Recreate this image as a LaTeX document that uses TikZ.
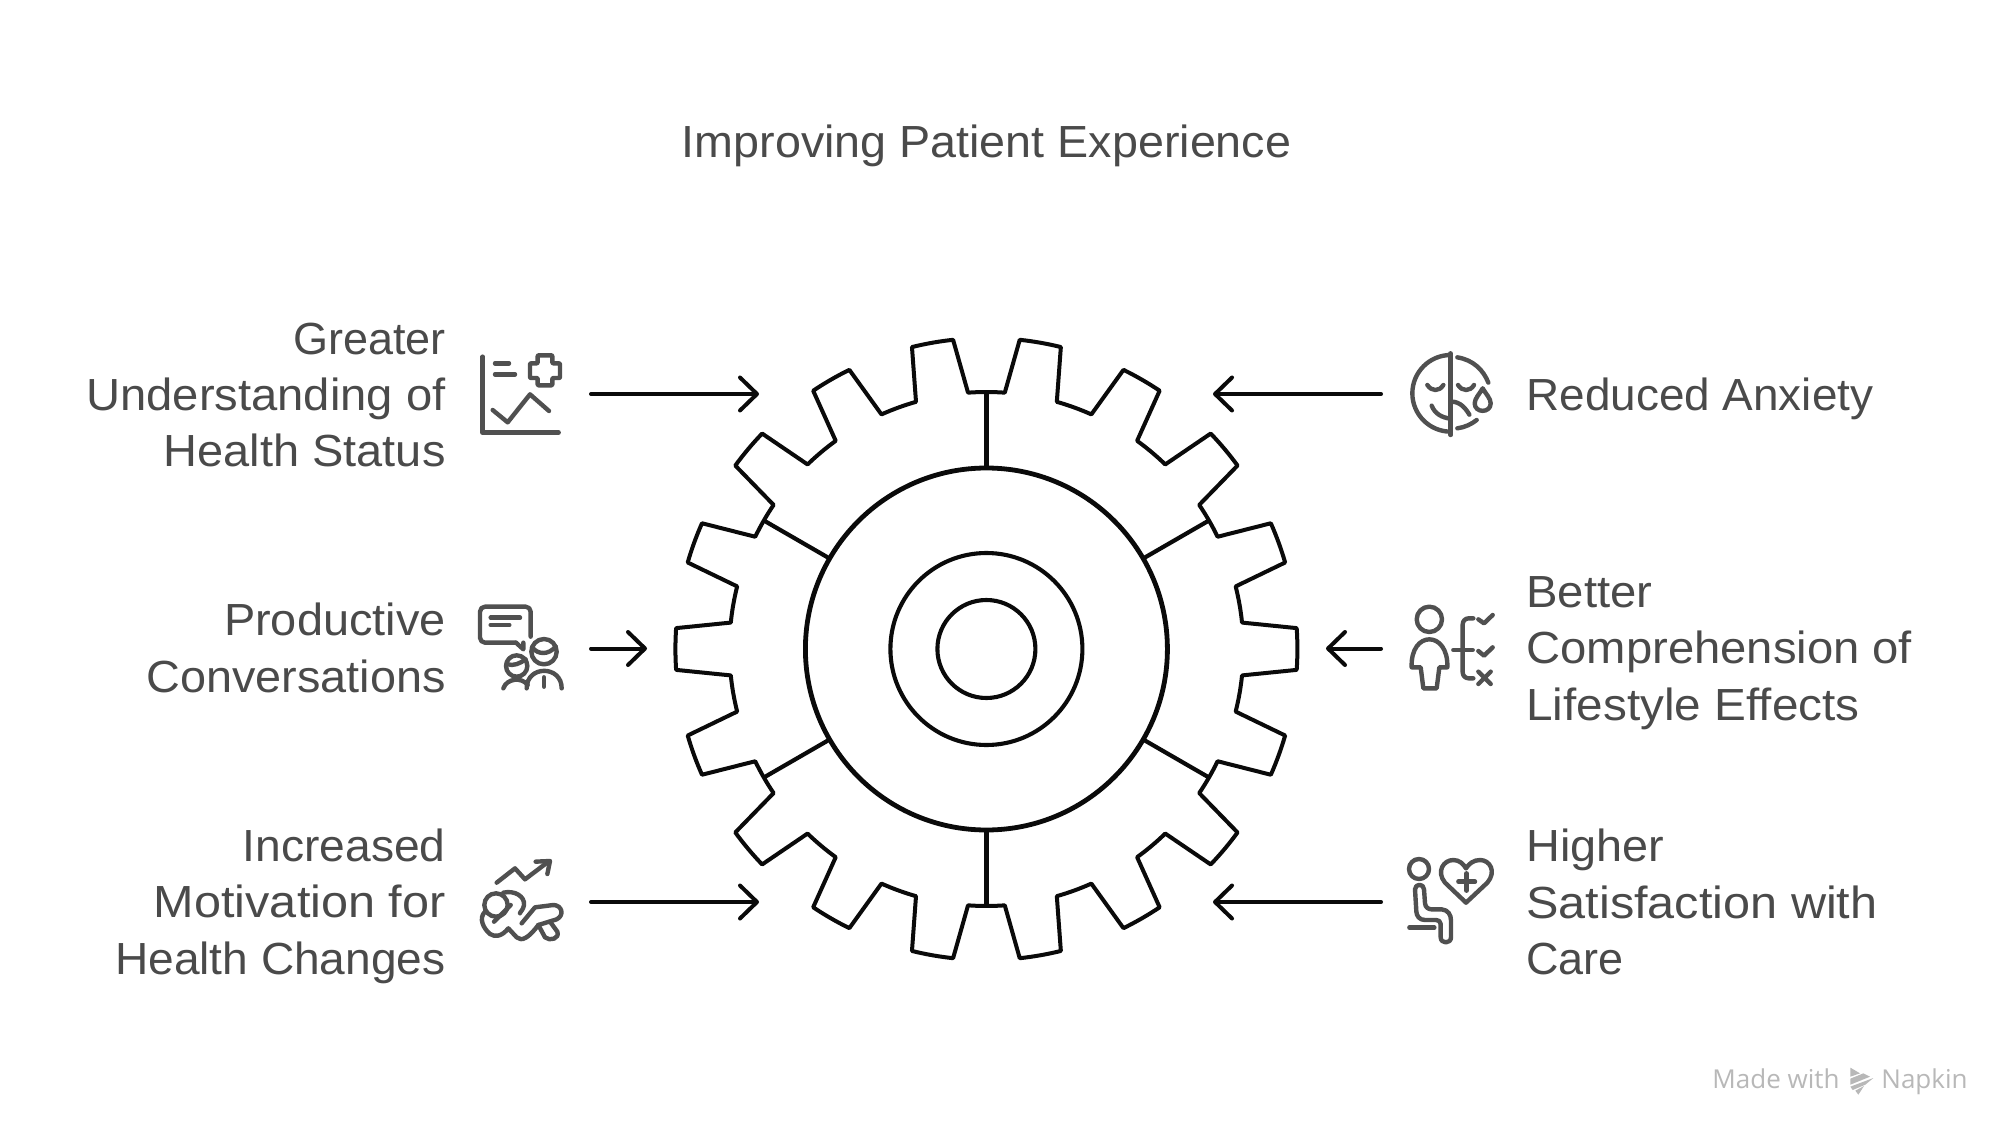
\documentclass[tikz,border=0pt]{standalone}
\usepackage{fontspec}
\usepackage{graphicx}
\usetikzlibrary{arrows.meta}
\setmainfont{Liberation Sans}
\newfontfamily\brandfont{Open Sans}
\definecolor{txt}{HTML}{4A4A4A}
\definecolor{ico}{HTML}{505050}
\definecolor{ink}{HTML}{0A0A0A}
\definecolor{brand}{HTML}{B8B8B8}
\newcommand{\widen}[2]{\scalebox{#1}[1]{#2}}
\tikzset{
  gearline/.style={draw=ink,line width=2pt,line join=round,line cap=round},
  ringa/.style={draw=ink,line width=2.4pt},
  ringb/.style={draw=ink,line width=2.05pt},
  flow/.style={draw=ink,line width=2pt,line cap=round,-{Straight Barb[length=8.5pt,width=16.5pt,round]}},
  lefttext/.style={anchor=east,align=right,text=txt,font=\fontsize{22.5}{28.2}\selectfont,inner sep=0pt},
  righttext/.style={anchor=west,align=left,text=txt,font=\fontsize{22.5}{28.2}\selectfont,inner sep=0pt},
  titletext/.style={text=txt,font=\fontsize{22.5}{28.2}\selectfont,inner sep=0pt},
  icn/.style={draw=ico,line width=2.2pt,line cap=round,line join=round},
  zoomed/.style={x=0.16667pt,y=-0.16667pt}
}
\begin{document}
\begin{tikzpicture}[x=0.5pt,y=-0.5pt]
\useasboundingbox (0,0) rectangle (2000,1122);
\fill[white] (0,0) rectangle (2000,1122);

\node[titletext] (title) at (986.5,146) {\widen{1.037}{Improving Patient Experience}};

% gear
\begin{scope}[shift={(986.4,649)}]
\draw[gearline] (-5.9:257)
  \foreach \c in {0,20,...,340} {
    -- (\c-5.9:257) -- (\c-3.85:311)
    arc[start angle=\c-3.85,end angle=\c+3.85,radius=311]
    -- (\c+5.9:257)
    arc[start angle=\c+5.9,end angle=\c+14.1,radius=257]
  } -- cycle;
\foreach \a in {30,90,150,210,270,330}
  \draw[gearline,line width=2.1pt,line cap=butt] (\a:181) -- (\a:257);
\draw[ringa] (0,0) circle[radius=181];
\draw[ringb] (0,0) circle[radius=96];
\draw[ringb] (0,0) circle[radius=49];
\end{scope}

% arrows
\coordinate (a1s) at (591,394);    \coordinate (a1e) at (759,394);
\coordinate (a2s) at (591,648.5);  \coordinate (a2e) at (647,648.5);
\coordinate (a3s) at (591,902);    \coordinate (a3e) at (759,902);
\coordinate (a4s) at (1381,394);   \coordinate (a4e) at (1213,394);
\coordinate (a5s) at (1381,648.5); \coordinate (a5e) at (1326,648.5);
\coordinate (a6s) at (1381,902);   \coordinate (a6e) at (1213,902);
\foreach \i in {1,...,6} \draw[flow] (a\i s) -- (a\i e);

% texts
\node[lefttext] (t1) at (446,395) {Greater\\\widen{1.048}{Understanding of}\\\widen{1.043}{Health Status}};
\node[lefttext] (t2) at (446,648) {\widen{1.042}{Productive}\\\widen{1.04}{Conversations}};
\node[lefttext] (t3) at (446,906) {\widen{1.026}{Increased}\\\widen{1.08}{Motivation for}\\\widen{1.024}{Health Changes}};
\node[righttext] (t4) at (1526,399) {\widen{1.02}{Reduced Anxiety}};
\node[righttext] (t5) at (1526,653) {\widen{1.05}{Better}\\\widen{1.049}{Comprehension of}\\\widen{1.06}{Lifestyle Effects}};
\node[righttext] (t6) at (1526,902) {\widen{1.04}{Higher}\\\widen{1.08}{Satisfaction with}\\Care};

% icon 1: chart with plus
\begin{scope}[shift={(460,340)},zoomed]
\draw[icn] (68,50) -- (68,278) -- (296,278);
\draw[icn] (105,70) -- (147,70) (105,103) -- (165,103);
\draw[icn,rounded corners=0.4pt] (233,46) -- (277,46) -- (277,70) -- (300,70) -- (300,114) -- (277,114) -- (277,136) -- (233,136) -- (233,114) -- (210,114) -- (210,70) -- (233,70) -- cycle;
\draw[icn] (98,210) -- (143,247) -- (210,163) -- (267,213);
\end{scope}

% icon 2: conversation
\begin{scope}[shift={(460,590)},zoomed]
\draw[icn,rounded corners=2.5pt] (168,158) -- (60,158) -- (60,50) -- (212,50) -- (212,140);
\draw[icn] (168,158) -- (190,178) -- (190,158);
\draw[icn] (92,83) -- (180,83) (92,105) -- (148,105);
\draw[icn] (252,185) circle[radius=38];
\draw[icn] (216,172) .. controls (235,195) and (265,195) .. (287,170);
\draw[icn] (170,228) circle[radius=32];
\draw[icn] (140,222) .. controls (160,230) and (180,220) .. (197,208);
\draw[icn] (200,295) .. controls (200,225) and (305,225) .. (305,295);
\draw[icn] (252,262) -- (252,290);
\draw[icn] (130,295) .. controls (140,265) and (185,260) .. (203,285);
\end{scope}

% icon 3: motivation
\begin{scope}[shift={(470,850)},zoomed]
\draw[icn] (80,98) -- (135,55) -- (165,88) -- (235,35);
\draw[icn] (197,35) -- (240,33) -- (232,72);
\draw[icn] (78,165) circle[radius=35];
\draw[icn] (72,215) -- (122,165);
\draw[icn] (100,128) .. controls (135,120) and (165,140) .. (162,165) .. controls (160,180) and (150,185) .. (150,190);
\draw[icn] (155,220) -- (195,172) -- (250,165) .. controls (275,165) and (285,195) .. (260,208) -- (205,225);
\draw[icn] (205,225) -- (225,262) .. controls (240,275) and (270,265) .. (262,245) -- (240,215);
\draw[icn] (45,185) .. controls (25,205) and (40,235) .. (60,252) .. controls (75,262) and (95,260) .. (115,235) -- (140,262) .. controls (155,275) and (175,265) .. (205,225);
\end{scope}

% icon 4: anxiety face
\begin{scope}[shift={(1400,340)},zoomed]
\draw[icn] (152,40) -- (152,285);
\draw[icn] (152,45) arc[start angle=-90,end angle=-270,radius=115];
\draw[icn] (172,52) .. controls (220,60) and (250,90) .. (265,128);
\draw[icn] (172,265) .. controls (195,262) and (215,252) .. (230,240);
\draw[icn] (82,135) .. controls (95,155) and (118,155) .. (130,135);
\draw[icn] (174,135) .. controls (187,155) and (210,155) .. (222,135);
\draw[icn] (95,197) .. controls (105,222) and (125,232) .. (150,236);
\draw[icn] (155,185) .. controls (180,185) and (197,205) .. (208,224);
\draw[icn] (248,145) .. controls (240,160) and (224,175) .. (224,190) .. controls (224,220) and (272,220) .. (272,190) .. controls (272,175) and (256,160) .. (248,145) -- cycle;
\end{scope}

% icon 5: person with choices
\begin{scope}[shift={(1400,590)},zoomed]
\draw[icn] (88,88) circle[radius=38];
\draw[icn] (35,232) .. controls (30,120) and (146,120) .. (142,232) -- (118,232) -- (110,295) -- (70,295) -- (62,232) -- cycle;
\draw[icn,rounded corners=3pt] (220,85) -- (188,85) -- (188,265) -- (220,265);
\draw[icn] (160,180) -- (218,180);
\draw[icn] (235,88) -- (252,100) -- (278,75);
\draw[icn] (235,183) -- (252,197) -- (278,172);
\draw[icn] (235,245) -- (272,282) (272,245) -- (235,282);
\end{scope}

% icon 6: seated person with heart
\begin{scope}[shift={(1400,850)},zoomed]
\draw[icn] (57,57) circle[radius=30];
\draw[icn] (45,118) .. controls (45,100) and (72,100) .. (72,118) -- (75,160) .. controls (76,172) and (85,178) .. (95,178) -- (125,178) .. controls (145,180) and (153,195) .. (153,212) -- (153,262) .. controls (153,282) and (122,282) .. (122,262) -- (122,222) .. controls (122,214) and (115,210) .. (108,210) -- (75,210) .. controls (58,210) and (50,198) .. (49,185) -- cycle;
\draw[icn] (28,233) -- (103,233);
\draw[icn] (198,158) -- (135,98) .. controls (108,65) and (130,30) .. (160,30) .. controls (178,30) and (190,42) .. (198,55) .. controls (206,42) and (220,30) .. (240,30) .. controls (270,30) and (290,65) .. (262,98) -- cycle;
\draw[icn] (175,95) -- (225,95) (200,70) -- (200,122);
\end{scope}

% brand
\node[anchor=base west,inner sep=0pt,text=brand,font=\brandfont\fontsize{13}{16}\selectfont] (made) at (1712,1088) {Made with};
\node[anchor=base west,inner sep=0pt,text=brand,font=\brandfont\fontsize{13}{16}\selectfont] (napkin) at (1881,1088) {Napkin};
\begin{scope}[shift={(1700,1050)},zoomed]
\fill[brand] (451,53) -- (480,70) -- (451,80) -- cycle;
\fill[brand] (451,86) -- (490,70) -- (510,80) -- (451,104) -- cycle;
\fill[brand] (451,110) -- (520,84) -- (496,104) -- (458,120) -- cycle;
\fill[brand] (466,122) -- (492,108) -- (475,134) -- cycle;
\end{scope}
\end{tikzpicture}
\end{document}
